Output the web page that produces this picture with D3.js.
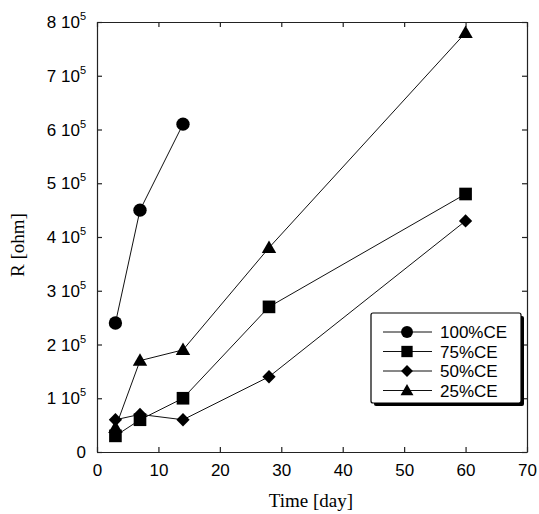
<!DOCTYPE html>
<html><head><meta charset="utf-8">
<script src="https://cdn.jsdelivr.net/npm/d3@7"></script>
<style>body{margin:0;background:#fff}svg{display:block}</style>
</head><body>
<svg id="c" width="539" height="514"></svg>
<script>
const days100 = [3, 7, 14];
const vals100 = [2.4e5, 4.5e5, 6.1e5];
const days75 = [3, 7, 14, 28, 60];
const vals75 = [0.3e5, 0.6e5, 1.0e5, 2.7e5, 4.8e5];
const days50 = [3, 7, 14, 28, 60];
const vals50 = [0.6e5, 0.7e5, 0.6e5, 1.4e5, 4.3e5];
const days25 = [3, 7, 14, 28, 60];
const vals25 = [0.45e5, 1.7e5, 1.9e5, 3.8e5, 7.8e5];
const seriesNames = ["100%CE", "75%CE", "50%CE", "25%CE"];
const xTicks = [0, 10, 20, 30, 40, 50, 60, 70];
const yTicks = [0, 1e5, 2e5, 3e5, 4e5, 5e5, 6e5, 7e5, 8e5];
const xTitle = "Time [day]";
const yTitle = "R [ohm]";

const series = [
  {name: seriesNames[0], x: days100, y: vals100, sym: d3.symbolCircle, size: 140, rot: 0},
  {name: seriesNames[1], x: days75, y: vals75, sym: d3.symbolSquare, size: 160, rot: 0},
  {name: seriesNames[2], x: days50, y: vals50, sym: d3.symbolSquare, size: 88, rot: 45},
  {name: seriesNames[3], x: days25, y: vals25, sym: d3.symbolTriangle, size: 90, rot: 0}
];

const svg = d3.select("#c");
const L = 97, R = 527, T = 22, B = 452;
const x = d3.scaleLinear().domain([0, 70]).range([L, R]);
const y = d3.scaleLinear().domain([0, 8e5]).range([B, T]);
const sans = "'Liberation Sans', Arial, sans-serif";
const serif = "'Liberation Serif', 'Times New Roman', serif";

const gB = svg.append("g").attr("transform", `translate(0,${B})`)
  .call(d3.axisBottom(x).tickValues(xTicks).tickSizeInner(-5).tickSizeOuter(0).tickPadding(12).tickFormat(d3.format("d")));
const gT = svg.append("g").attr("transform", `translate(0,${T})`)
  .call(d3.axisTop(x).tickValues(xTicks).tickSizeInner(-5).tickSizeOuter(0).tickFormat(""));
const gL = svg.append("g").attr("transform", `translate(${L},0)`)
  .call(d3.axisLeft(y).tickValues(yTicks).tickSizeInner(-5).tickSizeOuter(0).tickPadding(12).tickFormat(""));
const gR = svg.append("g").attr("transform", `translate(${R},0)`)
  .call(d3.axisRight(y).tickValues(yTicks).tickSizeInner(-5).tickSizeOuter(0).tickFormat(""));
[gB, gT, gL, gR].forEach(g => {
  g.select(".domain").attr("stroke", "#222").attr("stroke-width", 1.2);
  g.selectAll(".tick line").attr("stroke", "#222").attr("stroke-width", 1.2);
});
gB.selectAll(".tick text").attr("font-family", sans).attr("font-size", 17).attr("fill", "#000");

const yl = svg.append("g");
yTicks.forEach(v => {
  const t = yl.append("text").attr("x", 86).attr("y", y(v) + 6)
    .attr("text-anchor", "end").attr("font-family", sans).attr("font-size", 17).attr("fill", "#000");
  if (v === 0) { t.text("0"); }
  else {
    t.append("tspan").text(`${v / 1e5} 10`);
    t.append("tspan").attr("dy", -8).attr("font-size", 11).text("5");
  }
});

svg.append("text").attr("x", (L + R) / 2 - 1).attr("y", 507).attr("text-anchor", "middle")
  .attr("font-family", serif).attr("font-size", 19).text(xTitle);
svg.append("text").attr("transform", `translate(24,${245}) rotate(-90)`).attr("text-anchor", "middle")
  .attr("font-family", serif).attr("font-size", 19).text(yTitle);

const line = d3.line();
series.forEach(s => {
  const pts = s.x.map((d, i) => [x(d), y(s.y[i])]);
  svg.append("path").attr("d", line(pts)).attr("fill", "none").attr("stroke", "#111").attr("stroke-width", 1);
});
series.forEach(s => {
  svg.append("g").selectAll("path").data(s.x.map((d, i) => [d, s.y[i]])).join("path")
    .attr("transform", d => `translate(${x(d[0])},${y(d[1]) + (s.sym === d3.symbolTriangle ? 1 : 0)}) rotate(${s.rot})`)
    .attr("d", d3.symbol().type(s.sym).size(s.size)).attr("fill", "#000");
});

const lg = svg.append("g");
const lx = 371, ly = 313, lw = 150, lh = 90;
lg.append("rect").attr("x", lx + 3).attr("y", ly + 3).attr("width", lw).attr("height", lh).attr("rx", 2).attr("fill", "#000");
lg.append("rect").attr("x", lx).attr("y", ly).attr("width", lw).attr("height", lh).attr("rx", 2)
  .attr("fill", "#fff").attr("stroke", "#000").attr("stroke-width", 1.2);
series.forEach((s, i) => {
  const yy = ly + 19 + i * 19.5;
  lg.append("line").attr("x1", lx + 12).attr("x2", lx + 61).attr("y1", yy).attr("y2", yy).attr("stroke", "#111");
  lg.append("path").attr("transform", `translate(${lx + 36},${yy + (s.sym === d3.symbolTriangle ? 1 : 0)}) rotate(${s.rot})`)
    .attr("d", d3.symbol().type(s.sym).size(s.size * 0.8)).attr("fill", "#000");
  lg.append("text").attr("x", lx + 69).attr("y", yy + 6).attr("font-family", sans).attr("font-size", 17).text(s.name);
});
</script>
</body></html>
